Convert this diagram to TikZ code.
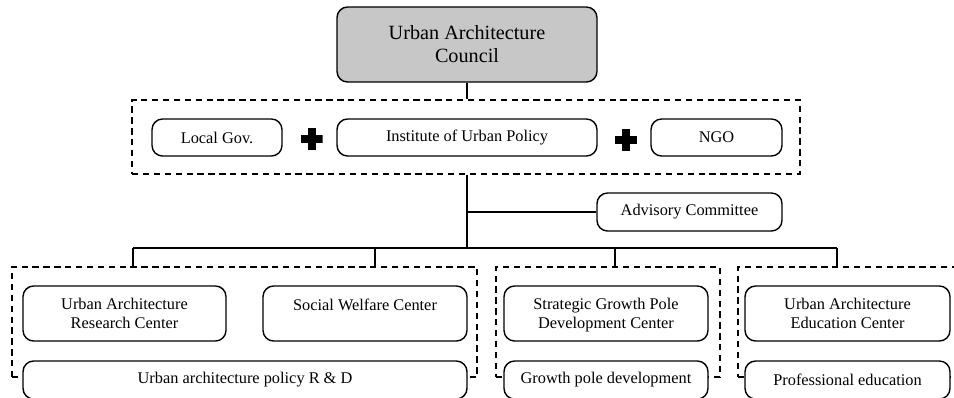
\documentclass[tikz,border=0pt]{standalone}
\usepackage{fontspec}
\setmainfont{Liberation Serif}
\usetikzlibrary{positioning, calc}

\tikzset{
	unit/.style={draw, rounded corners=6pt, line width=0.8pt, fill=white, align=center,
		font=\fontsize{9.3}{10.5}\selectfont, inner sep=2pt},
	council/.style={unit, fill=black!22, font=\fontsize{11.5}{13}\selectfont},
	group/.style={draw, dashed, dash pattern=on 3.6pt off 2.6pt, line width=0.8pt, inner sep=0pt},
	plussign/.style={minimum size=0.44cm, inner sep=0pt,
		path picture={
			\fill ([yshift=-0.08cm]path picture bounding box.west) rectangle ([yshift=0.08cm]path picture bounding box.east);
			\fill ([xshift=-0.08cm]path picture bounding box.south) rectangle ([xshift=0.08cm]path picture bounding box.north);
		}},
}

\begin{document}
\begin{tikzpicture}[x=0.02cm, y=-0.02cm, line width=0.8pt]
		\useasboundingbox (0,0) rectangle (954,397);
		\clip (0,0) rectangle (954,397);
		
		% Council
		\node[council, minimum width=5.2cm, minimum height=1.5cm] (council) at (467,44.5)
		{Urban Architecture\\Council};
		
		% Partner group
		\node[group, minimum width=13.36cm, minimum height=1.48cm] (partners) at (466,137) {};
		\node[unit, minimum width=2.6cm, minimum height=0.74cm] (localgov) at (217,137.5) {Local Gov.};
		\node[unit, minimum width=5.2cm, minimum height=0.74cm] (institute) at (467,137.5) {Institute of Urban Policy};
		\node[unit, minimum width=2.62cm, minimum height=0.74cm] (ngo) at (716.5,137.5) {NGO};
		\node[plussign] (plusA) at (311.5,139) {};
		\node[plussign] (plusB) at (626,139.5) {};
		
		\draw (council.south) -- (council.south |- partners.north);
		
		% Advisory committee
		\node[unit, minimum width=3.7cm, minimum height=0.76cm] (advisory) at (689.5,212) {Advisory Committee};
		\coordinate (bus) at (467,248);
		\draw (partners.south -| council.south) -- (bus);
		\draw (advisory.west) -- (advisory.west -| bus);
		
		% Dashed divisions
		\node[group, minimum width=9.3cm, minimum height=2.2cm] (divA) at (244.5,322) {};
		\node[group, minimum width=4.48cm, minimum height=2.2cm] (divB) at (608,322) {};
		\node[group, minimum width=4.48cm, minimum height=2.2cm] (divC) at (850,322) {};
		
		% Bus and drops
		\coordinate (dropA) at (133,248);
		\coordinate (dropB) at (375,248);
		\coordinate (dropC) at (615,248);
		\coordinate (dropD) at (837,248);
		\draw (dropA) -- (dropD);
		\foreach \d/\g in {dropA/divA, dropB/divA, dropC/divB, dropD/divC}
		\draw (\d) -- (\d |- \g.north);
		
		% Centers
		\tikzset{centre/.style={unit, minimum height=1.1cm, text depth=-2pt}}
		\node[centre, minimum width=4.06cm] (research) at (124.5,313.5)
		{Urban Architecture\\Research Center};
		\node[centre, minimum width=4.08cm] (welfare) at (365,313.5)
		{Social Welfare Center\\\strut};
		\node[centre, minimum width=4.08cm] (growth) at (606,313.5)
		{Strategic Growth Pole\\Development Center};
		\node[centre, minimum width=4.1cm] (education) at (847.5,313.5)
		{Urban Architecture\\Education Center};
		
		% Tasks
		\node[unit, minimum width=8.88cm, minimum height=0.76cm] (policy) at (245,380) {Urban architecture policy R \& D};
		\node[unit, minimum width=4.08cm, minimum height=0.76cm] (polework) at (606,380) {Growth pole development};
		\node[unit, minimum width=4.1cm, minimum height=0.76cm] (training) at (847.5,380) {Professional education};
	\end{tikzpicture}
\end{document}
